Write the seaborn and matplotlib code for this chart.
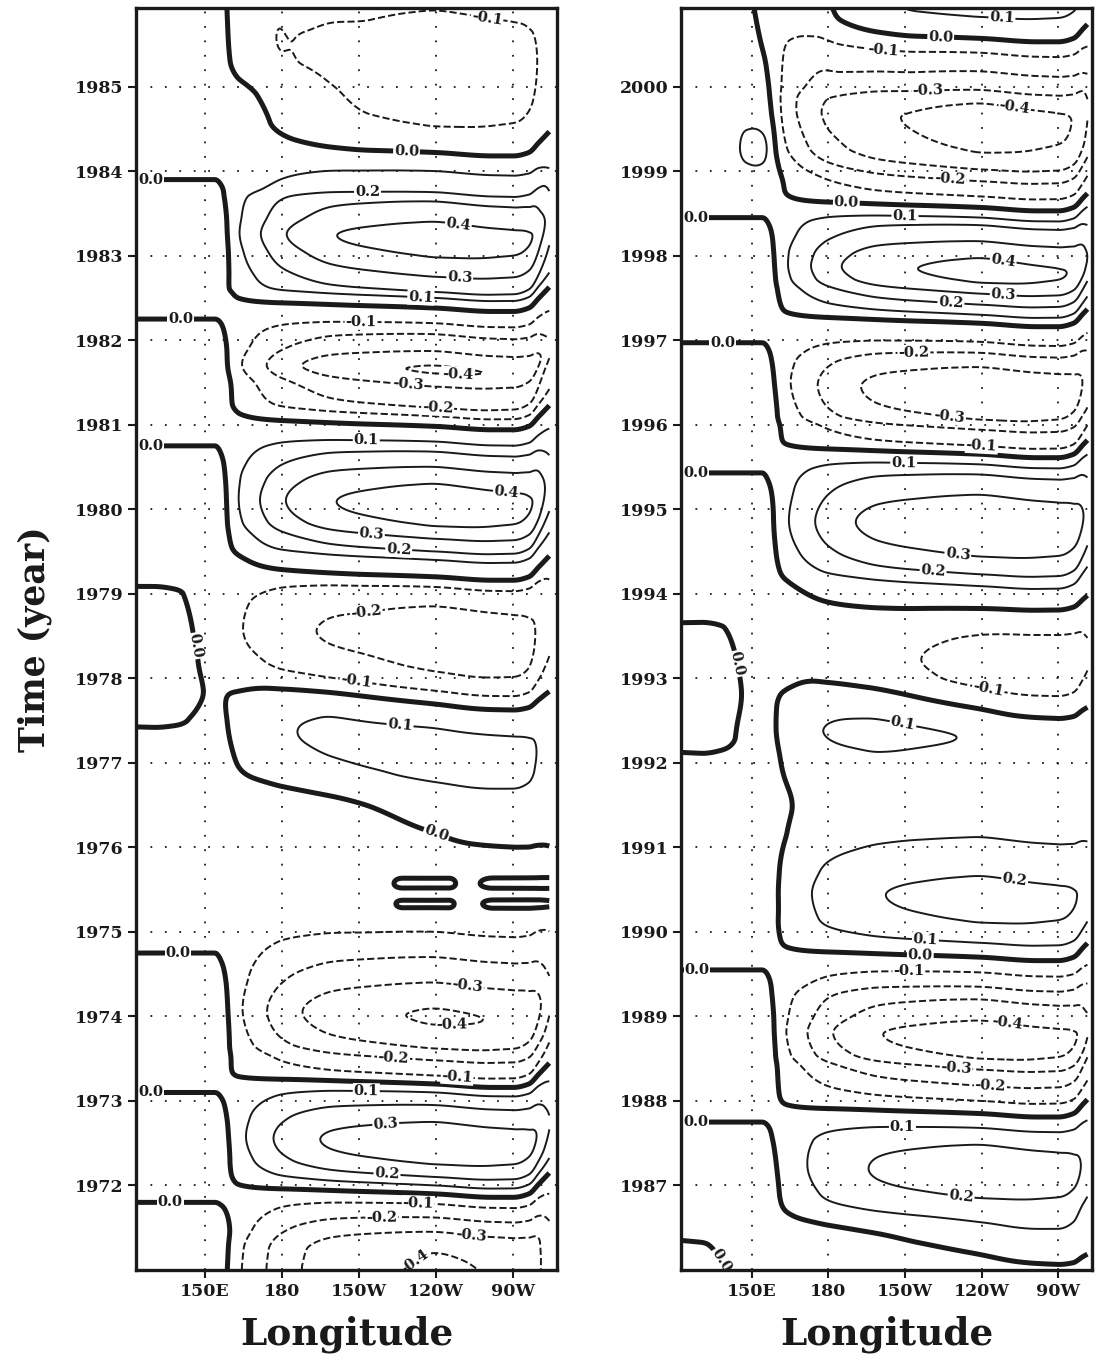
import numpy as np
import matplotlib
matplotlib.use("Agg")
import matplotlib.pyplot as plt
import seaborn as sns

# ---------------- data ----------------
# Eastern / central Pacific time series (value at core longitudes)
LEFT_T = [1971.0, 1971.2, 1971.45, 1971.62, 1971.78, 1971.9, 1972.0, 1972.1, 1972.25, 1972.5,
          1972.75, 1972.95, 1973.1, 1973.2, 1973.3, 1973.48, 1973.62, 1974.0, 1974.4, 1974.7,
          1975.0, 1975.3, 1975.8, 1976.2, 1976.45, 1976.85, 1977.2, 1977.5, 1977.75, 1977.9,
          1978.15, 1978.5, 1978.85, 1979.08, 1979.2, 1979.4, 1979.5, 1979.65, 1979.8, 1980.05,
          1980.3, 1980.5, 1980.68, 1980.8, 1980.98, 1981.1, 1981.2, 1981.45, 1981.65, 1981.87,
          1982.07, 1982.2, 1982.38, 1982.5, 1982.57, 1982.75, 1982.98, 1983.2, 1983.4, 1983.64,
          1983.75, 1984.0, 1984.22, 1984.53, 1985.2, 1985.9, 1986.0]
LEFT_E = [-0.41, -0.40, -0.30, -0.20, -0.10, 0.0, 0.10, 0.20, 0.30, 0.37,
          0.30, 0.20, 0.10, 0.0, -0.10, -0.20, -0.30, -0.41, -0.30, -0.20,
          -0.10, -0.05, -0.03, -0.015, 0.0, 0.10, 0.13, 0.10, 0.0, -0.10,
          -0.20, -0.24, -0.20, -0.10, 0.0, 0.10, 0.20, 0.30, 0.40, 0.46,
          0.40, 0.30, 0.20, 0.10, 0.0, -0.10, -0.20, -0.30, -0.41, -0.30,
          -0.20, -0.10, 0.0, 0.10, 0.20, 0.30, 0.40, 0.46, 0.40, 0.30,
          0.20, 0.10, 0.0, -0.10, -0.125, -0.10, -0.09]

RIGHT_T = [1986.0, 1986.3, 1986.6, 1986.85, 1987.15, 1987.48, 1987.68, 1987.85, 1988.0, 1988.18,
           1988.37, 1988.5, 1988.75, 1988.95, 1989.2, 1989.35, 1989.52, 1989.7, 1989.87, 1990.11,
           1990.4, 1990.66, 1991.12, 1991.6, 1992.0, 1992.3, 1992.6, 1992.75, 1993.0, 1993.2,
           1993.45, 1993.8, 1994.09, 1994.23, 1994.44, 1994.8, 1995.17, 1995.41, 1995.53, 1995.65,
           1995.75, 1995.94, 1996.06, 1996.4, 1996.68, 1996.85, 1996.98, 1997.2, 1997.3, 1997.42,
           1997.55, 1997.68, 1997.82, 1997.97, 1998.17, 1998.36, 1998.45, 1998.57, 1998.7, 1998.88,
           1999.02, 1999.22, 1999.6, 1999.8, 1999.96, 2000.18, 2000.4, 2000.57, 2000.78, 2001.0]
RIGHT_E = [-0.05, 0.0, 0.10, 0.20, 0.245, 0.20, 0.10, 0.0, -0.10, -0.20,
           -0.30, -0.40, -0.46, -0.40, -0.30, -0.20, -0.10, 0.0, 0.10, 0.20,
           0.23, 0.20, 0.10, 0.07, 0.09, 0.12, 0.05, 0.0, -0.09, -0.105,
           -0.09, 0.0, 0.10, 0.20, 0.30, 0.39, 0.30, 0.20, 0.10, 0.0,
           -0.10, -0.20, -0.30, -0.38, -0.30, -0.20, -0.10, 0.0, 0.10, 0.20,
           0.30, 0.40, 0.43, 0.40, 0.30, 0.20, 0.10, 0.0, -0.10, -0.20,
           -0.30, -0.40, -0.44, -0.40, -0.30, -0.20, -0.10, 0.0, 0.09, 0.13]

# Western Pacific (warm pool) time series
LEFT_WT = [1971.0, 1971.4, 1971.8, 1972.45, 1973.1, 1973.9, 1974.75, 1975.5, 1976.5, 1977.5,
           1978.3, 1979.1, 1980.0, 1980.75, 1981.5, 1982.25, 1983.1, 1983.9, 1984.9, 1986.0]
LEFT_W = [0.05, 0.06, 0.0, -0.06, 0.0, 0.06, 0.0, -0.05, -0.04, -0.03,
          -0.03, -0.04, -0.05, 0.0, 0.06, 0.0, -0.06, 0.0, 0.09, 0.085]
RIGHT_WT = [1986.0, 1987.0, 1987.75, 1988.6, 1989.55, 1990.4, 1991.5, 1992.5, 1993.2,
            1994.2, 1994.9, 1995.43, 1996.2, 1996.97, 1997.7, 1998.45, 1999.3, 2000.2, 2001.0]
RIGHT_W = [-0.03, -0.05, 0.0, 0.06, 0.0, -0.05, -0.045, -0.05, -0.05,
           -0.05, -0.04, 0.0, 0.06, 0.0, -0.06, 0.0, 0.105, 0.08, 0.06]

# Small pockets hugging the western frame
LEFT_PT = [1971.0, 1977.3, 1977.5, 1978.3, 1979.0, 1979.2, 1986.0]
LEFT_P = [0.0, 0.0, 0.04, 0.08, 0.06, 0.0, 0.0]
RIGHT_PT = [1986.0, 1986.3, 1986.55, 1991.9, 1992.3, 1993.0, 1993.6, 1993.8, 2001.0]
RIGHT_P = [0.05, 0.04, 0.0, 0.0, 0.07, 0.075, 0.055, 0.0, 0.0]
# Small warm blob just west of the dateline step (right panel, 1999)
RIGHT_BT = [1986.0, 1998.9, 1999.3, 1999.7, 2001.0]
RIGHT_BV = [0.0, 0.0, 0.06, 0.0, 0.0]
LEFT_BT = [1971.0, 1986.0]
LEFT_BV = [0.0, 0.0]

# Short ripples in the far east during the weak 1975-76 period
LEFT_RT = [1971.0, 1975.2, 1975.33, 1975.45, 1975.57, 1975.7, 1986.0]
LEFT_RV = [0.0, 0.0, 0.07, -0.01, 0.07, 0.0, 0.0]
RIGHT_RT = [1986.0, 2001.0]
RIGHT_RV = [0.0, 0.0]
# region where the ripple rings carry no value labels
LEFT_QUIET = (222.0, 1975.1, 1975.8)
RIGHT_QUIET = (300.0, 0.0, 0.0)

# Slow east-west tilt of the weak zero lines
LEFT_TT = [1971.0, 1975.6, 1976.1, 1976.5, 1977.0, 1977.5, 1977.8, 1978.2, 1978.6, 1986.0]
LEFT_TV = [0.0, 0.0, 0.025, 0.035, 0.01, -0.03, -0.05, -0.02, 0.0, 0.0]
RIGHT_TT = [1986.0, 1986.35, 1986.8, 1991.4, 1992.0, 1992.4, 1992.8, 1993.2, 1993.7, 1994.1, 2001.0]
RIGHT_TV = [0.03, 0.04, 0.0, 0.0, -0.03, -0.05, -0.07, -0.05, -0.02, 0.0, 0.0]

# Transition zone (160E-180) lingering signal
LEFT_XT = [1971.0, 1983.9, 1984.4, 1984.9, 1985.3, 1986.0]
LEFT_XV = [0.0, 0.0, 0.035, 0.01, -0.06, -0.08]
RIGHT_XT = [1986.0, 1998.8, 1999.3, 1999.8, 2000.3, 2001.0]
RIGHT_XV = [0.0, 0.0, -0.05, -0.09, -0.12, -0.15]

# Longitude structure (degrees east)
EAST_LON = [120, 154, 157, 160, 163, 166, 170, 175, 180, 190, 200, 215, 230, 240, 250, 265, 272, 277, 281, 285]
EAST_SHAPE = [0.0, 0.0, 0.04, 0.15, 0.28, 0.36, 0.45, 0.56, 0.66, 0.78, 0.87, 0.93, 0.98, 1.0, 0.99, 0.96, 0.94, 0.88, 0.72, 0.5]
WEST_LON = [120, 140, 150, 155, 158, 162, 166, 170, 180, 190, 200, 215, 285]
WEST_SHAPE = [0.85, 0.88, 0.97, 0.97, 0.85, 0.7, 0.6, 0.5, 0.32, 0.18, 0.08, 0.0, 0.0]
POCKET_LON = [120, 130, 138, 145, 152, 157, 285]
POCKET_SHAPE = [1.0, 1.0, 0.75, 0.4, 0.1, 0.0, 0.0]
BLOB_LON = [120, 143, 148, 152, 156, 160, 285]
BLOB_SHAPE = [0.0, 0.0, 0.6, 1.0, 0.6, 0.0, 0.0]
RIPPLE_LON = [120, 220, 227, 245, 250, 255, 262, 280, 285]
RIPPLE_SHAPE = [0.0, 0.0, 1.0, 1.0, 0.1, 0.3, 1.0, 1.0, 0.8]
TILT_LON = [120, 160, 175, 195, 215, 235, 255, 275, 285]
TILT_SHAPE = [0.0, -0.5, -0.9, -0.6, 0.0, 0.5, 0.9, 1.0, 0.8]
ZONE_LON = [120, 145, 155, 165, 175, 185, 200, 215, 285]
ZONE_SHAPE = [0.0, 0.2, 0.6, 1.0, 0.9, 0.5, 0.15, 0.0, 0.0]
LAG_LON = [120, 180, 210, 240, 262, 270, 276, 280, 285]
EAST_LAG = [0.05, 0.05, 0.03, 0.0, -0.04, -0.04, 0.0, 0.12, 0.28]

LON_TICKS = [150, 180, 210, 240, 270]
LON_LABELS = ["150E", "180", "150W", "120W", "90W"]
LEFT_YEARS = list(range(1972, 1986))
RIGHT_YEARS = list(range(1987, 2001))
NEG_LEVELS = [-0.5, -0.4, -0.3, -0.2, -0.1]
POS_LEVELS = [0.1, 0.2, 0.3, 0.4, 0.5]


def pchip(x, y, xq):
    x = np.asarray(x, float)
    y = np.asarray(y, float)
    xq = np.clip(np.asarray(xq, float), x[0], x[-1])
    h = np.diff(x)
    d = np.diff(y) / h
    m = np.zeros_like(y)
    for k in range(1, len(x) - 1):
        if d[k - 1] * d[k] > 0:
            w1 = 2 * h[k] + h[k - 1]
            w2 = h[k] + 2 * h[k - 1]
            m[k] = (w1 + w2) / (w1 / d[k - 1] + w2 / d[k])
    m[0] = d[0]
    m[-1] = d[-1]
    idx = np.clip(np.searchsorted(x, xq) - 1, 0, len(x) - 2)
    hh = h[idx]
    s = (xq - x[idx]) / hh
    h00 = 2 * s**3 - 3 * s**2 + 1
    h10 = s**3 - 2 * s**2 + s
    h01 = -2 * s**3 + 3 * s**2
    h11 = s**3 - s**2
    return h00 * y[idx] + h10 * hh * m[idx] + h01 * y[idx + 1] + h11 * hh * m[idx + 1]


def field(series, t0, t1, lon0, lon1):
    (et, ev), (wt, wv), (pt, pv), (bt, bv), (rt, rv), (tt, tv), (xt, xv) = series
    lon = np.linspace(lon0, lon1, 320)
    t = np.linspace(t0, t1, 1200)
    se = pchip(EAST_LON, EAST_SHAPE, lon)
    sw = pchip(WEST_LON, WEST_SHAPE, lon)
    sp = pchip(POCKET_LON, POCKET_SHAPE, lon)
    sb = pchip(BLOB_LON, BLOB_SHAPE, lon)
    sr = pchip(RIPPLE_LON, RIPPLE_SHAPE, lon)
    st = pchip(TILT_LON, TILT_SHAPE, lon)
    sx = pchip(ZONE_LON, ZONE_SHAPE, lon)
    lag = pchip(LAG_LON, EAST_LAG, lon)
    e2 = pchip(et, ev, t[:, None] - lag[None, :])
    z = (se[None, :] * e2
         + sw[None, :] * pchip(wt, wv, t)[:, None]
         + sp[None, :] * pchip(pt, pv, t)[:, None]
         + sb[None, :] * pchip(bt, bv, t)[:, None]
         + sr[None, :] * pchip(rt, rv, t)[:, None]
         + st[None, :] * pchip(tt, tv, t)[:, None]
         + sx[None, :] * pchip(xt, xv, t)[:, None])
    return lon, t, z


sns.set_theme(style="white")
plt.rcParams["font.family"] = ["DejaVu Serif"]
plt.rcParams["font.weight"] = "bold"
plt.rcParams["axes.labelweight"] = "bold"

fig = plt.figure(figsize=(11.03, 13.64), dpi=100)
axL = fig.add_axes([136 / 1103, 94 / 1364, 421 / 1103, 1262 / 1364])
axR = fig.add_axes([681 / 1103, 94 / 1364, 411 / 1103, 1262 / 1364])

panels = [
    (axL, [(LEFT_T, LEFT_E), (LEFT_WT, LEFT_W), (LEFT_PT, LEFT_P), (LEFT_BT, LEFT_BV),
           (LEFT_RT, LEFT_RV), (LEFT_TT, LEFT_TV), (LEFT_XT, LEFT_XV)],
     1971.0, 1985.93, 123.0, 284.0, (123.3, 287.0), LEFT_YEARS, LEFT_QUIET),
    (axR, [(RIGHT_T, RIGHT_E), (RIGHT_WT, RIGHT_W), (RIGHT_PT, RIGHT_P), (RIGHT_BT, RIGHT_BV),
           (RIGHT_RT, RIGHT_RV), (RIGHT_TT, RIGHT_TV), (RIGHT_XT, RIGHT_XV)],
     1986.0, 2000.93, 122.0, 281.5, (122.2, 283.3), RIGHT_YEARS, RIGHT_QUIET),
]

for ax, series, t0, t1, lon0, lon1, xlim, years, quiet in panels:
    lon, t, z = field(series, t0, t1, lon0, lon1)
    cn = ax.contour(lon, t, z, levels=NEG_LEVELS, colors="k", linewidths=1.4, linestyles="--")
    cp = ax.contour(lon, t, z, levels=POS_LEVELS, colors="k", linewidths=1.4, linestyles="-")
    c0 = ax.contour(lon, t, z, levels=[0.0], colors="k", linewidths=3.6, linestyles="-")
    for cs, is_zero in ((cn, False), (cp, False), (c0, True)):
        txts = ax.clabel(cs, fmt="%.1f", fontsize=10.5, inline=False)
        for tx in txts:
            x0, y0 = tx.get_position()
            drop = (x0 > quiet[0] and quiet[1] < y0 < quiet[2]) or (not is_zero and x0 < 158)
            if drop:
                tx.remove()
                continue
            tx.set_fontweight("bold")
            tx.set_bbox(dict(facecolor="white", edgecolor="none", pad=0.6))
            tx.set_zorder(5)
    ax.set_xlim(*xlim)
    ax.set_ylim(t0, t1)
    ax.set_xticks(LON_TICKS)
    ax.set_xticklabels(LON_LABELS)
    ax.set_yticks(years)
    ax.set_yticklabels([str(y) for y in years])
    ax.grid(True, color="k", linestyle=(0, (1, 7)), linewidth=1.3)
    ax.tick_params(direction="out", length=6, width=1.5, labelsize=12.5, pad=3,
                   colors="k", bottom=True, left=True)
    for sp in ax.spines.values():
        sp.set_visible(True)
        sp.set_linewidth(2.4)
        sp.set_color("k")
        sp.set_zorder(6)
    ax.set_xlabel("Longitude", fontsize=27, fontweight="bold", color="k")
    ax.xaxis.set_label_coords(0.5, -0.036)

axL.set_ylabel("Time (year)", fontsize=25, fontweight="bold", color="k")
axL.yaxis.set_label_coords(-0.2, 0.5)

fig.savefig("out.png", dpi=100, facecolor="white")
